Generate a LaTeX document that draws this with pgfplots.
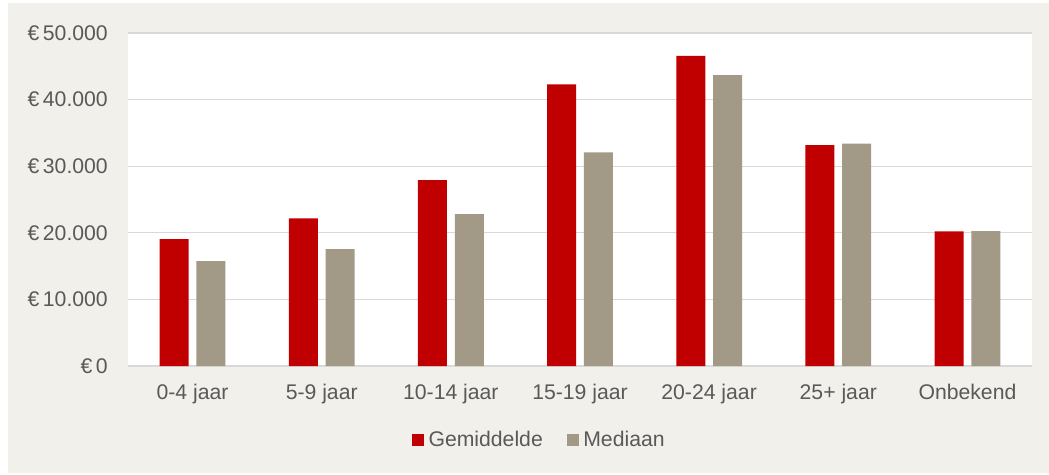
\documentclass[border=0pt]{standalone}
\usepackage{fontspec}
\setmainfont{Liberation Sans}
\usepackage{pgfplots}
\pgfplotsset{compat=1.18}
\definecolor{bgbeige}{HTML}{F1F0EA}
\definecolor{gemred}{HTML}{C00000}
\definecolor{medgrey}{HTML}{A29A86}
\definecolor{gridgrey}{HTML}{D9D9D9}
\definecolor{txtgrey}{HTML}{595959}
\begin{document}
\begin{tikzpicture}[x=1pt,y=1pt]
\useasboundingbox (0,0) rectangle (1049,474);
\fill[white] (0,0) rectangle (1049,474);
\fill[bgbeige] (8,1) rectangle (1049,471);
\begin{axis}[
  at={(128pt,108pt)}, anchor=south west,
  scale only axis, width=904pt, height=333pt,
  xmin=-0.5, xmax=6.5, ymin=0, ymax=50000,
  scaled y ticks=false,
  axis background/.style={fill=white},
  axis line style={draw=none},
  major tick length=0pt,
  ymajorgrids, grid style={gridgrey, line width=1.3pt},
  ytick={0,10000,20000,30000,40000,50000},
  yticklabels={€\,0,€\,10.000,€\,20.000,€\,30.000,€\,40.000,€\,50.000},
  xtick={0,...,6},
  xticklabels={0-4 jaar,5-9 jaar,10-14 jaar,15-19 jaar,20-24 jaar,25+ jaar,Onbekend},
  tick label style={font=\fontsize{21.2}{25}\selectfont, text=txtgrey},
  yticklabel style={anchor=east, inner sep=0pt, xshift=-20pt},
  xticklabel style={anchor=base, inner sep=0pt, yshift=-33pt},
  ybar, bar width=29pt,
  legend columns=2,
  legend style={at={(axis description cs:0.455,-0.222)}, anchor=center,
    draw=none, fill=none, font=\fontsize{21.2}{25}\selectfont, text=txtgrey,
    /tikz/every odd column/.append style={column sep=2.5pt},
    /tikz/every even column/.append style={column sep=22pt}},
]
\addplot[fill=gemred, draw=none, bar shift=-18.4pt,
  legend image code/.code={\fill[gemred] (0pt,-6pt) rectangle (12pt,6pt);}]
  coordinates {(0,19050) (1,22160) (2,27900) (3,42300) (4,46560) (5,33160) (6,20200)};
\addplot[fill=medgrey, draw=none, bar shift=18.4pt,
  legend image code/.code={\fill[medgrey] (0pt,-6pt) rectangle (12pt,6pt);}]
  coordinates {(0,15750) (1,17550) (2,22800) (3,32060) (4,43660) (5,33400) (6,20250)};
\legend{Gemiddelde,Mediaan}
\end{axis}
\end{tikzpicture}
\end{document}
